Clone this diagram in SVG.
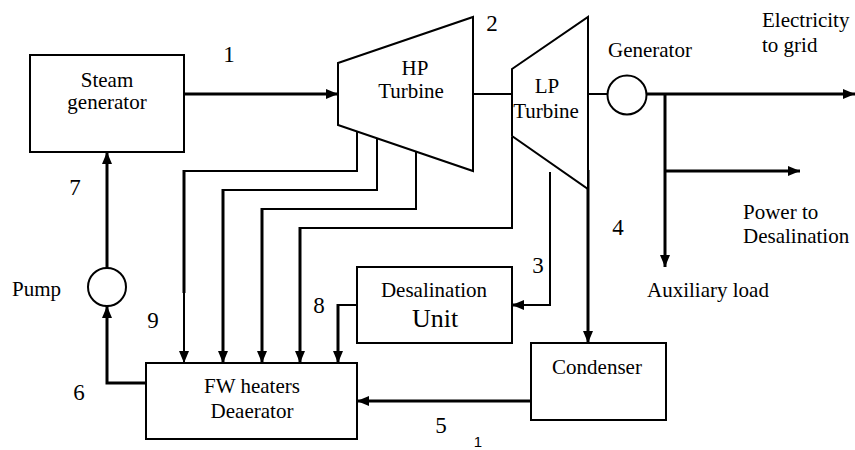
<svg xmlns="http://www.w3.org/2000/svg" width="855" height="450" viewBox="0 0 855 450">
<defs>
<marker id="ah" viewBox="0 0 12 10" refX="12" refY="5" markerWidth="12" markerHeight="10" markerUnits="userSpaceOnUse" orient="auto">
<path d="M0,0 L12,5 L0,10 z" fill="#000"/>
</marker>
</defs>
<style>
.box{fill:#fff;stroke:#000;stroke-width:2}
.t{font-family:'Liberation Serif','Times New Roman',Times,'DejaVu Serif',serif;font-size:21px;fill:#000}
.n{font-family:'Liberation Serif','Times New Roman',Times,'DejaVu Serif',serif;font-size:23px;fill:#000}
.big{font-size:26px}
.c{text-anchor:middle}
.th{fill:none;stroke:#000;stroke-width:3}
.tn{fill:none;stroke:#000;stroke-width:2}
.ar{marker-end:url(#ah)}
</style>
<rect width="855" height="450" fill="#fff"/>

<g id="connectors">
<path class="th ar" d="M184,94 H338"/>
<path class="tn" d="M473,94 H512"/>
<path class="tn" d="M588,94 H608"/>
<path class="th ar" d="M647,94 H855"/>
<path class="th ar" d="M665,94 V267"/>
<path class="th ar" d="M665,171 H800"/>
<path class="th ar" d="M588,170 V343"/>
<path class="tn" d="M550,172 V305 H522"/>
<path class="th ar" d="M524,305 H512"/>
<path class="th ar" d="M531,401 H357"/>
<path class="th ar" d="M146,383 H107 V306"/>
<path class="th ar" d="M107,268 V152"/>
<path class="tn" d="M357,130 V171 H184"/>
<path class="th" d="M184,170 V293"/>
<path class="tn ar" d="M184,293 V363"/>
<path class="tn" d="M377,132 V190 H223"/>
<path class="th ar" d="M223,189 V363"/>
<path class="tn" d="M416,152 V209 H262"/>
<path class="th ar" d="M262,208 V363"/>
<path class="tn" d="M512,137 V228 H300"/>
<path class="th ar" d="M300,227 V363"/>
<path class="tn" d="M357,305 H338"/>
<path class="th ar" d="M338,304 V363"/>
</g>

<g id="steam-generator">
<rect class="box" x="30" y="55" width="154" height="97"/>
<text class="t c" x="107" y="87">Steam</text>
<text class="t c" x="107" y="109">generator</text>
</g>

<g id="hp-turbine">
<polygon class="box" points="338,63 473,17 473,171 338,125"/>
<text class="t c" x="415" y="75">HP</text>
<text class="t c" x="411" y="98">Turbine</text>
</g>

<g id="lp-turbine">
<polygon class="box" points="512,69 588,17 588,189 512,136"/>
<text class="t c" x="547" y="93">LP</text>
<text class="t c" x="546" y="118">Turbine</text>
</g>

<g id="generator">
<circle class="box" cx="627" cy="95" r="19.5"/>
<text class="t" x="608" y="57">Generator</text>
</g>

<g id="grid">
<text class="t" x="762" y="27">Electricity</text>
<text class="t" x="762" y="52">to grid</text>
</g>

<g id="power-to-desalination">
<text class="t" x="743" y="219">Power to</text>
<text class="t" x="743" y="243">Desalination</text>
</g>

<g id="auxiliary-load">
<text class="t" x="647" y="297">Auxiliary load</text>
</g>

<g id="desalination-unit">
<rect class="box" x="357" y="267" width="155" height="76"/>
<text class="t c" x="434" y="297">Desalination</text>
<text class="t c big" x="435" y="327">Unit</text>
</g>

<g id="condenser">
<rect class="box" x="531" y="343" width="135" height="77"/>
<text class="t c" x="597" y="374">Condenser</text>
</g>

<g id="fw-heaters">
<rect class="box" x="146" y="363" width="211" height="76"/>
<text class="t c" x="252" y="393">FW heaters</text>
<text class="t c" x="252" y="418">Deaerator</text>
</g>

<g id="pump">
<circle class="box" cx="107" cy="287" r="19"/>
<text class="t" x="12" y="296">Pump</text>
</g>

<g id="labels">
<text class="n c" x="229" y="62">1</text>
<text class="n c" x="492" y="31">2</text>
<text class="n c" x="538" y="273">3</text>
<text class="n c" x="618" y="235">4</text>
<text class="n c" x="441" y="433">5</text>
<text class="n c" x="79" y="400">6</text>
<text class="n c" x="75" y="195">7</text>
<text class="n c" x="319" y="313">8</text>
<text class="n c" x="153" y="328">9</text>
<text x="478" y="447" text-anchor="middle" font-family="'Liberation Sans', Arial, sans-serif" font-size="15">1</text>
</g>
</svg>
